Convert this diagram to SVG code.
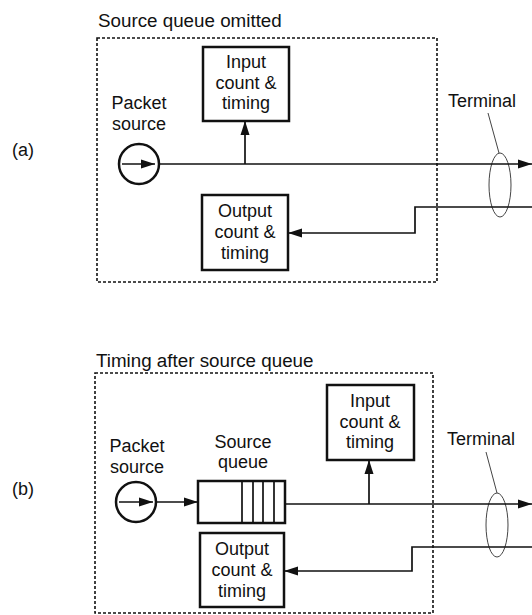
<svg xmlns="http://www.w3.org/2000/svg" width="532" height="615" viewBox="0 0 532 615">
<style>
text{font-family:"Liberation Sans",Arial,sans-serif;font-size:18px;fill:#111}
.c{text-anchor:middle}
.t{font-size:18.8px}
.box{fill:none;stroke:#111;stroke-width:2.5}
.frame{fill:none;stroke:#111;stroke-width:1.6;stroke-dasharray:3 2}
.ln{fill:none;stroke:#111;stroke-width:1.7}
.thin{fill:none;stroke:#444;stroke-width:1}
</style>
<defs>
<marker id="ah" viewBox="0 0 14 10" refX="14" refY="5" markerWidth="14" markerHeight="10" markerUnits="userSpaceOnUse" orient="auto">
<path d="M0,0.5 L14,5 L0,9.5 Z" fill="#111"/>
</marker>
</defs>
<rect width="532" height="615" fill="#fff"/>

<!-- Panel (a) -->
<g id="panel-a">
<text x="12" y="156">(a)</text>
<g id="frame-a"><rect class="frame" x="97" y="38" width="340" height="244"/>
<text class="t" x="98" y="27">Source queue omitted</text></g>
<g id="source-a"><circle class="box" cx="139" cy="164" r="20"/>
<line class="ln" x1="122" y1="164" x2="155" y2="164" marker-end="url(#ah)"/>
<text class="c" x="139" y="109">Packet</text><text class="c" x="139" y="130">source</text></g>
<g id="input-a"><rect class="box" x="203" y="47" width="86" height="74"/>
<text class="c" x="246" y="68">Input</text><text class="c" x="246" y="89">count &amp;</text><text class="c" x="246" y="109">timing</text></g>
<g id="output-a"><rect class="box" x="202" y="195" width="86" height="75"/>
<text class="c" x="245" y="217">Output</text><text class="c" x="245" y="238">count &amp;</text><text class="c" x="245" y="259">timing</text></g>
<g id="terminal-a"><text x="448" y="107">Terminal</text>
<ellipse class="thin" cx="500" cy="185" rx="11" ry="32"/>
<line class="thin" x1="488" y1="113" x2="499" y2="153"/></g>
<g id="connectors-a">
<line class="ln" x1="159" y1="164" x2="532" y2="164" marker-end="url(#ah)"/>
<line class="ln" x1="245" y1="164" x2="245" y2="121" marker-end="url(#ah)"/>
<polyline class="ln" points="532,207 415,207 415,233 288,233" marker-end="url(#ah)"/>
</g>
</g>

<!-- Panel (b) -->
<g id="panel-b">
<text x="12" y="495">(b)</text>
<g id="frame-b"><rect class="frame" x="95" y="373" width="338" height="240"/>
<text class="t" x="96" y="367">Timing after source queue</text></g>
<g id="source-b"><circle class="box" cx="136" cy="502" r="20"/>
<line class="ln" x1="119" y1="502" x2="153" y2="502" marker-end="url(#ah)"/>
<text class="c" x="137" y="452">Packet</text><text class="c" x="137" y="473">source</text></g>
<g id="queue-b"><rect class="box" x="198" y="481" width="87" height="42"/>
<line class="ln" x1="242" y1="481" x2="242" y2="523"/>
<line class="ln" x1="253" y1="481" x2="253" y2="523"/>
<line class="ln" x1="263" y1="481" x2="263" y2="523"/>
<line class="ln" x1="274" y1="481" x2="274" y2="523"/>
<text class="c" x="243" y="448">Source</text><text class="c" x="243" y="468">queue</text></g>
<g id="input-b"><rect class="box" x="327" y="385" width="87" height="75"/>
<text class="c" x="370" y="407">Input</text><text class="c" x="370" y="428">count &amp;</text><text class="c" x="370" y="448">timing</text></g>
<g id="output-b"><rect class="box" x="200" y="533" width="84" height="74"/>
<text class="c" x="242" y="555">Output</text><text class="c" x="242" y="576">count &amp;</text><text class="c" x="242" y="597">timing</text></g>
<g id="terminal-b"><text x="447" y="445">Terminal</text>
<ellipse class="thin" cx="497" cy="525" rx="11" ry="32"/>
<line class="thin" x1="486" y1="452" x2="497" y2="493"/></g>
<g id="connectors-b">
<line class="ln" x1="157" y1="502" x2="198" y2="502" marker-end="url(#ah)"/>
<line class="ln" x1="285" y1="504" x2="532" y2="504" marker-end="url(#ah)"/>
<line class="ln" x1="369" y1="504" x2="369" y2="460" marker-end="url(#ah)"/>
<polyline class="ln" points="532,547 412,547 412,571 284,571" marker-end="url(#ah)"/>
</g>
</g>
</svg>
